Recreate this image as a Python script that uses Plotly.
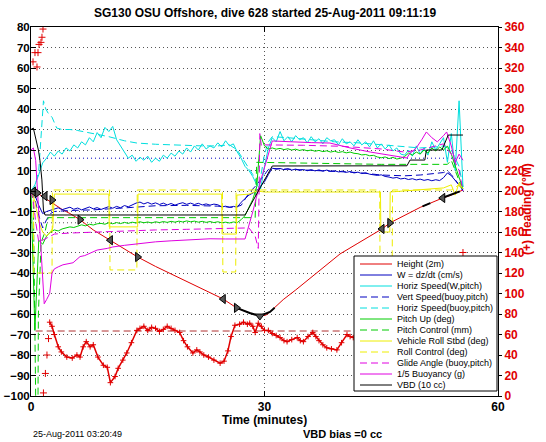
import plotly.graph_objects as go

# ---------------- text ----------------
TITLE = "SG130 OSU Offshore, dive 628 started 25-Aug-2011 09:11:19"
X_LABEL = "Time (minutes)"
Y2_LABEL = "(+) Heading (°M)"
STAMP = "25-Aug-2011 03:20:49"
VBD_NOTE = "VBD bias =0 cc"

X_TICKS = [0, 30, 60]
Y_TICKS = [-100, -90, -80, -70, -60, -50, -40, -30, -20, -10, 0, 10, 20, 30, 40, 50, 60, 70, 80]
Y2_TICKS = [0, 20, 40, 60, 80, 100, 120, 140, 160, 180, 200, 220, 240, 260, 280, 300, 320, 340, 360]

STEP = 0.5  # sampling step (minutes) of the dense series below

# ---------------- data ----------------
HEIGHT_T = [0, 0.5, 1, 2, 3, 4, 5, 6.3, 8, 10.2, 12, 13.7, 16, 18, 20, 23, 24.7, 26.4, 28.1, 29.4,
            30.2, 30.7, 31.3, 32.4, 34, 36, 38, 39.7, 42, 45.1, 46.1, 48, 50, 52.9, 54, 55.5]
HEIGHT_V = [0, -0.5, -1.5, -4, -6.5, -9, -11, -14, -19, -24, -28.5, -32.2, -36.8, -40.5, -44.2, -49.8,
            -52.7, -57, -59.5, -61, -60.5, -59, -57, -53, -48.3, -42, -36, -30.7, -25.5, -18.5, -15.6,
            -11.8, -8, -3.4, -2, 0.5]

TRI_T = [0.3, 0.8, 1.8, 2.7, 6.3, 10.2, 13.7, 24.7, 26.4, 29.4, 45.1, 46.1, 52.9]
TRI_V = [-0.3, -1, -2.5, -4.4, -14, -24, -32.2, -52.7, -57, -61, -18.5, -15.6, -3.4]
TRI_SYMBOL = ["triangle-left", "triangle-right", "triangle-left", "triangle-right", "triangle-right",
              "triangle-left", "triangle-right", "triangle-left", "triangle-right", "triangle-down",
              "triangle-left", "triangle-right", "triangle-left"]

GC_T = [26.4, 28.1, 29.4, 30.7, 31.3, None, 50.3, 51.3, None, 52.8, 55.1]
GC_V = [-57, -59.5, -61, -59, -57, None, -7.5, -5.9, None, -3.4, -0.2]

# W = dz/dt, every 0.5 min from t=0
W_VALS = [0, -2, -7, -11, -10, -9.5, -8.8, -8.2, -9.1, -8.4,
          -7.9, -8.9, -8.3, -9.2, -8.6, -7.8, -8.7, -8.1, -9.0, -8.3,
          -7.6, -8.4, -7.5, -8.2, -7.1, -7.7, -6.8, -5.9, -5.4, -6.3,
          -5.6, -6.4, -5.8, -6.6, -5.9, -6.8, -6.1, -6.9, -6.2, -5.7,
          -6.5, -5.9, -6.6, -6.0, -6.8, -6.3, -6.9, -6.4, -6.7, -7.8,
          -7.4, -8.0, -7.5, -7.9, -5.5, -3.5, -2.0, -1.0, 0.0, 2.5,
          4.5, 8.0, 11.2, 10.6, 11.0, 10.4, 10.9, 10.2, 10.7, 10.1,
          10.5, 9.9, 10.4, 9.8, 10.3, 9.7, 10.2, 9.6, 9.9, 9.3,
          9.7, 9.1, 9.5, 8.8, 9.2, 8.5, 8.9, 8.2, 8.0, 7.6,
          7.9, 7.1, 6.8, 6.3, 6.6, 5.9, 6.2, 5.6, 6.0, 5.4,
          5.8, 5.2, 5.6, 5.0, 5.5, 5.1, 6.5, 8.8, 7.5, 5.0,
          2.5, 0.5]

VSPD_T = [0, 0.5, 1, 1.5, 2, 2.5, 3, 5, 8, 10, 13, 16, 20, 24, 26, 27, 27.5, 28, 29, 30, 30.5, 31,
          34, 38, 42, 45, 48, 50, 52, 53, 53.5, 54, 55, 55.5]
VSPD_V = [0, -4, -12, -18, -14, -11, -10, -9.5, -9.2, -8.8, -8.0, -7.2, -7.0, -7.4, -8.0, -7, -4, -1,
          3, 8, 10.5, 11, 10.5, 9.8, 9.0, 7.8, 7.4, 7.8, 8.5, 9.0, 9.8, 8, 3, 0]

# Horizontal speed (W, pitch), every 0.5 min from t=0
HSPD_VALS = [0, 3, 8, 13.7, 16, 19, 17, 19.5, 18, 21,
             19.5, 22.5, 21, 24, 22.5, 26, 24, 28.5, 26, 31,
             29, 31.5, 25, 22, 19, 16, 17.5, 14.5, 16.5, 15,
             17, 14, 16, 14.5, 17.5, 16, 18.5, 17, 19.5, 18,
             21, 19, 22, 20, 23, 20.5, 22, 21, 23.5, 21.5,
             24.5, 22, 23, 19, 16, 12, 10, 7, 3, 1,
             12, 21, 26, 24, 29, 24.5, 26.5, 24, 27, 25,
             26, 23.5, 26.5, 24, 25.5, 23, 26, 24.5, 25, 22.5,
             25.5, 23, 24, 22, 25, 22.5, 24, 21.5, 24.5, 21,
             23, 20.5, 22.5, 19.5, 21, 18, 17.5, 20, 17, 22,
             18, 21, 17.5, 24, 20, 23, 26, 14, 28, 10,
             44, 2]

HBUOY_T = [0, 0.5, 1, 1.3, 1.6, 1.9, 2.2, 2.7, 3.3, 4, 5, 6, 8, 10, 12, 13.6, 16, 18, 20, 22, 24, 25.5,
           26.5, 27.5, 28.5, 29.3, 30, 30.5, 31, 33, 36, 39, 42, 45, 48, 50, 52, 53, 54, 55, 55.5]
HBUOY_V = [0, 2, 10, 30, 44, 40, 38, 36, 30.7, 30, 30, 29.5, 28, 26.5, 24.5, 23.4, 22.8, 22.5, 22.2,
           22, 22, 22.5, 20, 14, 8, 2, 18, 24, 26.5, 26, 25, 24, 23.5, 22.5, 21.5, 21, 21.5, 22, 20, 12, 2]

# Pitch up, every 0.5 min from t=0
PITCH_VALS = [0, -68, -24, -26, -22, -20, -19, -19.5, -18.5, -18,
              -17.5, -17.8, -17, -16.5, -17, -16.2, -16.6, -16, -15.8, -16.2,
              -15.5, -16, -15.4, -15.9, -15.3, -15.8, -15.2, -15.6, -15, -15.5,
              -15.1, -15.6, -15, -15.4, -14.9, -15.3, -14.8, -15.2, -14.7, -15.1,
              -14.6, -15, -14.7, -15.2, -14.8, -15.3, -14.9, -15.4, -15, -15.5,
              -15.2, -15.6, -15.1, -15.4, -14, -12, -8, -4, 2, 27,
              22, 20.5, 21, 20.4, 20.8, 20.2, 20.6, 20, 20.4, 19.8,
              20.2, 19.6, 20, 19.4, 19.8, 19.2, 19.6, 19, 19.4, 18.8,
              19.2, 18.6, 19, 18.4, 18.2, 17.6, 17.8, 17.2, 17.4, 16.6,
              16.2, 16.6, 15.8, 16.4, 15.6, 16, 16.8, 18.5, 17.5, 19,
              18, 20, 18.5, 21, 19.5, 21.5, 20, 22, 18, 12,
              6, 1]

PCTRL_T = [0, 0.3, 0.6, 0.9, 0.95, 1.3, 1.8, 2.2, 28.8, 29.0, 45, 53.5, 54, 55, 55.5]
PCTRL_V = [0, -5, -100, -100, -60, -25, -20, -13, -13, 14, 13, 13, 15, 5, 0]

ROLL_T = [0, 0.5, 1, 1.5, 2, 2.5, 2.8, 3, 10, 10.05, 13.7, 13.75, 24.5, 24.55, 26.4, 26.45, 28, 29,
          30, 44.9, 44.95, 46.1, 46.15, 50, 53, 54, 54.5, 55, 55.5]
ROLL_V = [0, -5, -15, -20, -22, -20, -18, -1.5, -1.5, -17.5, -17.5, -1.5, -1.5, -21, -21, -2, -1.5,
          0, -0.5, -0.5, -20, -20, -0.5, 0.5, 1.5, 3, -2, 4, 1]

RCTRL_T = [0, 0.3, 0.35, 2.7, 2.75, 10.1, 10.15, 13.6, 13.65, 24.6, 24.65, 26.3, 26.35, 29, 44.8,
           44.85, 46.4, 46.45, 54, 55, 55.5]
RCTRL_V = [0, 0, -40, -40, 0.5, 0.5, -38.5, -38.5, 0.5, 0.5, -39.5, -39.5, 0.5, 0.5, 0.5, -40, -40,
           0.5, 0.5, 3, 0]

GLIDE_T = [0, 0.3, 0.6, 1, 1.5, 2, 2.5, 3, 5, 8, 12, 16, 20, 24, 27, 28, 28.8, 29.2, 29.4, 29.6, 30,
           31, 35, 40, 45, 48, 50, 52, 53, 54, 55, 55.5]
GLIDE_V = [0, -5, -15, -25, -24, -23, -22, -21, -20.5, -20, -19.5, -19, -18.7, -18.5, -18.3, -18, -22,
           -28, 28, 22, 22.5, 22.5, 22.3, 21.8, 20.5, 19, 20, 22, 23, 18, 10, 0]

BUOY_T = [0, 0.3, 0.6, 1.0, 1.4, 1.7, 2.0, 2.4, 2.7, 3.0, 3.5, 4.1, 5.4, 6.3, 6.9, 8.5, 9.8, 10.5,
          12, 14, 16, 18, 20, 23, 25, 27.5, 28.5, 29.5, 31, 33, 36, 38.4, 41, 43.6, 46, 48.3, 48.6,
          49.5, 50.2, 50.8, 51.5, 52.2, 53, 53.4, 54, 54.5, 55, 55.5]
BUOY_V = [20, 21, 15, -10, -40, -55, -53, -50, -40, -38, -37, -36, -35, -32, -31.5, -28.8, -28, -27.3,
          -26.5, -25.5, -24.8, -24.3, -23.8, -23.3, -23.4, -23.4, -10, 5, 24.4, 24, 23.6, 23.4, 21, 19,
          17.5, 16.1, 18, 21, 25, 28.8, 26, 24, 27, 28.8, 22, 14, 18, 15]

VBD_T = [0, 0.3, 0.95, 1.15, 1.4, 1.6, 1.8, 27.5, 31, 48.3, 48.7, 50.6, 50.8, 52.8, 53.6, 55.5]
VBD_V = [30, 30.7, 20, 15, 5.4, -9.3, -11.7, -11.7, 12.2, 12.3, 15.1, 15.1, 20, 20, 27.3, 27.3]

# heading (degrees magnetic, right axis)
HDG_EARLY_T = [0.26, 0.51, 0.77, 0.9, 1.03, 1.28, 1.41, 1.54, 1.6, 1.85, 2.05, 2.25, 55.5]
HDG_EARLY_V = [326, 335, 321, 335, 343, 345, 350, 358, 3, 22, 40, 56, 140]
HDG_T = [2.4, 2.7, 3.0, 3.5, 3.9, 4.6, 5.3, 5.9, 6.3, 6.7, 7.1, 7.6, 8.0, 8.6, 9.3, 9.8, 10.2, 10.8,
         11.2, 11.8, 12.3, 12.9, 13.6, 14.0, 14.5, 15.0, 15.5, 16.0, 16.5, 17.0, 17.5, 18.0, 18.5,
         19.1, 19.6, 20.1, 20.8, 21.3, 21.7, 22.2, 22.8, 23.5, 24.3, 24.8, 25.3, 25.7, 26.2, 26.8,
         27.3, 27.8, 28.1, 28.5, 28.8, 29.2, 29.6, 30.0, 30.5, 31.0, 31.5, 32.0, 32.5, 32.9, 33.5,
         34.2, 34.6, 35.0, 35.6, 36.2, 36.6, 37.0, 37.5, 38.0, 38.6, 39.3, 39.9, 40.6, 41.0, 41.4,
         42.0, 43.0, 44.0, 46.0, 48.0, 50.0, 52.0, 54.0, 55.0]
HDG_V = [72, 68, 60, 48, 43, 38, 37, 40, 38, 48, 53, 48, 50, 38, 30, 28, 13, 19, 27, 35, 42, 52, 64,
         66, 68, 64, 67, 66, 63, 65, 68, 66, 64, 62, 54, 48, 42, 45, 43, 40, 38, 35, 32, 34, 44, 58,
         69, 70, 72, 70, 71, 68, 62, 71, 68, 64, 64, 61, 59, 57, 54, 53, 55, 57, 54, 53, 58, 62, 58,
         54, 50, 47, 46, 45, 52, 60, 58, 57, 59, 56, 50, 46, 52, 56, 60, 58, 56]
HDG_TARGET = 63.4
HDG_TARGET_SPAN = [0.6, 55.5]

W_REF = 16      # blue dotted reference
W_REF2 = -15.5  # gray dotted reference
REF_SPAN = [0, 55.5]

# ---------------- styles ----------------
FONT = "Liberation Sans, Arial, Helvetica, sans-serif"
RED = "#e00000"
DKRED = "#b03030"
BLUE = "#0000c0"
CYAN = "#00dede"
GREEN = "#00cc00"
YELLOW = "#eeee00"
MAGENTA = "#e000e0"
BLACK = "#000000"
DASH = "7px,4px"

FIG_W, FIG_H = 546, 442


def grid_t(vals):
    return [i * STEP for i in range(len(vals))]


fig = go.Figure()


def line(x, y, color, dash="solid", width=1, yaxis="y", name=None):
    fig.add_trace(go.Scatter(x=x, y=y, mode="lines", yaxis=yaxis, name=name, showlegend=False,
                             line=dict(color=color, width=width, dash=dash), hoverinfo="skip",
                             connectgaps=False))


# reference lines
line(REF_SPAN, [W_REF, W_REF], BLUE, dash="1px,3px")
line(REF_SPAN, [W_REF2, W_REF2], "#555555", dash="1px,3px")

# series in drawing order
line(HEIGHT_T, HEIGHT_V, RED)
line(grid_t(W_VALS), W_VALS, BLUE)
line(grid_t(HSPD_VALS), HSPD_VALS, CYAN)
line(VSPD_T, VSPD_V, BLUE, dash=DASH)
line(HBUOY_T, HBUOY_V, CYAN, dash=DASH)
line(grid_t(PITCH_VALS), PITCH_VALS, GREEN)
line(PCTRL_T, PCTRL_V, GREEN, dash=DASH)
line(ROLL_T, ROLL_V, YELLOW)
line(RCTRL_T, RCTRL_V, YELLOW, dash=DASH)
line(GLIDE_T, GLIDE_V, MAGENTA, dash=DASH)
line(BUOY_T, BUOY_V, MAGENTA)
line(VBD_T, VBD_V, BLACK)
line(GC_T, GC_V, BLACK, width=2)

fig.add_trace(go.Scatter(x=TRI_T, y=TRI_V, mode="markers", showlegend=False, hoverinfo="skip",
                         marker=dict(symbol=TRI_SYMBOL, size=8, color="#555555",
                                     line=dict(color=BLACK, width=1))))

# heading on right axis
line(HDG_TARGET_SPAN, [HDG_TARGET, HDG_TARGET], DKRED, dash=DASH, yaxis="y2")
fig.add_trace(go.Scatter(x=HDG_T, y=HDG_V, mode="lines+markers", yaxis="y2", showlegend=False,
                         hoverinfo="skip", line=dict(color=RED, width=1.5),
                         marker=dict(symbol="cross-thin", size=4, line=dict(color=RED, width=1))))
fig.add_trace(go.Scatter(x=HDG_EARLY_T, y=HDG_EARLY_V, mode="markers", yaxis="y2", showlegend=False,
                         hoverinfo="skip",
                         marker=dict(symbol="cross-thin", size=5, line=dict(color=RED, width=1))))

# ---------------- manual legend (MATLAB style) ----------------
LEGEND_NAMES = ["Height (2m)", "W = dz/dt (cm/s)", "Horiz Speed(W,pitch)", "Vert Speed(buoy,pitch)",
                "Horiz Speed(buoy,pitch)", "Pitch Up (deg)", "Pitch Control (mm)",
                "Vehicle Roll Stbd (deg)", "Roll Control (deg)", "Glide Angle (buoy,pitch)",
                "1/5 Buoyancy (g)", "VBD (10 cc)"]
LEGEND_COLORS = [RED, BLUE, CYAN, BLUE, CYAN, GREEN, GREEN, YELLOW, YELLOW, MAGENTA, MAGENTA, BLACK]
LEGEND_DASH = ["solid", "solid", "solid", DASH, DASH, "solid", DASH, "solid", DASH, DASH, "solid", "solid"]

# plot area in page pixels
PX0, PX1, PY0, PY1 = 31, 498, 27, 396


def px_x(p):
    return (p - PX0) / (PX1 - PX0)


def px_y(p):
    return (PY1 - p) / (PY1 - PY0)


shapes = [dict(type="rect", xref="paper", yref="paper", x0=px_x(354), x1=px_x(497),
               y0=px_y(391), y1=px_y(256), fillcolor="white", line=dict(color=BLACK, width=1),
               layer="above")]
annotations = []
for i, (nm, col, ds) in enumerate(zip(LEGEND_NAMES, LEGEND_COLORS, LEGEND_DASH)):
    yy = px_y(264 + 11 * i)
    shapes.append(dict(type="line", xref="paper", yref="paper", x0=px_x(360), x1=px_x(392),
                       y0=yy, y1=yy, line=dict(color=col, width=1, dash=ds), layer="above"))
    annotations.append(dict(text=nm, xref="paper", yref="paper", x=px_x(395), y=yy,
                            xanchor="left", yanchor="middle", showarrow=False,
                            font=dict(family=FONT, size=9, color=BLACK)))

annotations += [
    dict(text=X_LABEL, xref="paper", yref="paper", x=0.5, y=px_y(420), xanchor="center",
         yanchor="middle", showarrow=False, font=dict(family=FONT, size=12, color=BLACK, weight="bold")),
    dict(text=STAMP, xref="paper", yref="paper", x=px_x(31), y=px_y(434), xanchor="left",
         yanchor="middle", showarrow=False, font=dict(family=FONT, size=9, color=BLACK)),
    dict(text=VBD_NOTE, xref="paper", yref="paper", x=px_x(301), y=px_y(434), xanchor="left",
         yanchor="middle", showarrow=False, font=dict(family=FONT, size=11, color=BLACK, weight="bold")),
    dict(text=Y2_LABEL, xref="paper", yref="paper", x=px_x(527), y=px_y(209), xanchor="center",
         yanchor="middle", textangle=-90, showarrow=False,
         font=dict(family=FONT, size=12, color=RED, weight="bold")),
    dict(text=TITLE, xref="paper", yref="paper", x=0.5, y=px_y(13), xanchor="center",
         yanchor="middle", showarrow=False, font=dict(family=FONT, size=12, color=BLACK, weight="bold")),
]

fig.update_layout(
    width=FIG_W, height=FIG_H,
    margin=dict(l=PX0, r=FIG_W - PX1, t=PY0, b=FIG_H - PY1, pad=0, autoexpand=False),
    paper_bgcolor="white", plot_bgcolor="white",
    font=dict(family=FONT, color=BLACK),
    showlegend=False,
    hovermode=False,
    xaxis=dict(range=[0, 60], tickvals=X_TICKS, ticks="inside", ticklen=5, tickcolor=BLACK,
               showline=True, linecolor=BLACK, linewidth=1, mirror="ticks", showgrid=True,
               gridcolor="#555555", griddash="1px,3px", gridwidth=1, zeroline=False, automargin=False,
               tickfont=dict(family=FONT, size=12, color=BLACK, weight="bold")),
    yaxis=dict(range=[-100, 80], tickvals=Y_TICKS, ticks="inside", ticklen=5, tickcolor=BLACK,
               showline=True, linecolor=BLACK, linewidth=1, mirror=True, showgrid=True,
               gridcolor="#555555", griddash="1px,3px", gridwidth=1, zeroline=False, automargin=False,
               ticklabelstandoff=-2,
               tickfont=dict(family=FONT, size=11.5, color=BLACK, weight="bold")),
    yaxis2=dict(range=[0, 360], tickvals=Y2_TICKS, overlaying="y", side="right", ticks="outside",
                ticklen=3, tickcolor=BLACK, showline=True, linecolor=BLACK, showgrid=False,
                zeroline=False, automargin=False,
                tickfont=dict(family=FONT, size=12, color=RED, weight="bold")),
    shapes=shapes,
    annotations=annotations,
)

# remove the page's default body margin so the figure fills the window exactly
fig.write_html("out.html", config=dict(displayModeBar=False),
               post_script="document.body.style.margin='0px';")
